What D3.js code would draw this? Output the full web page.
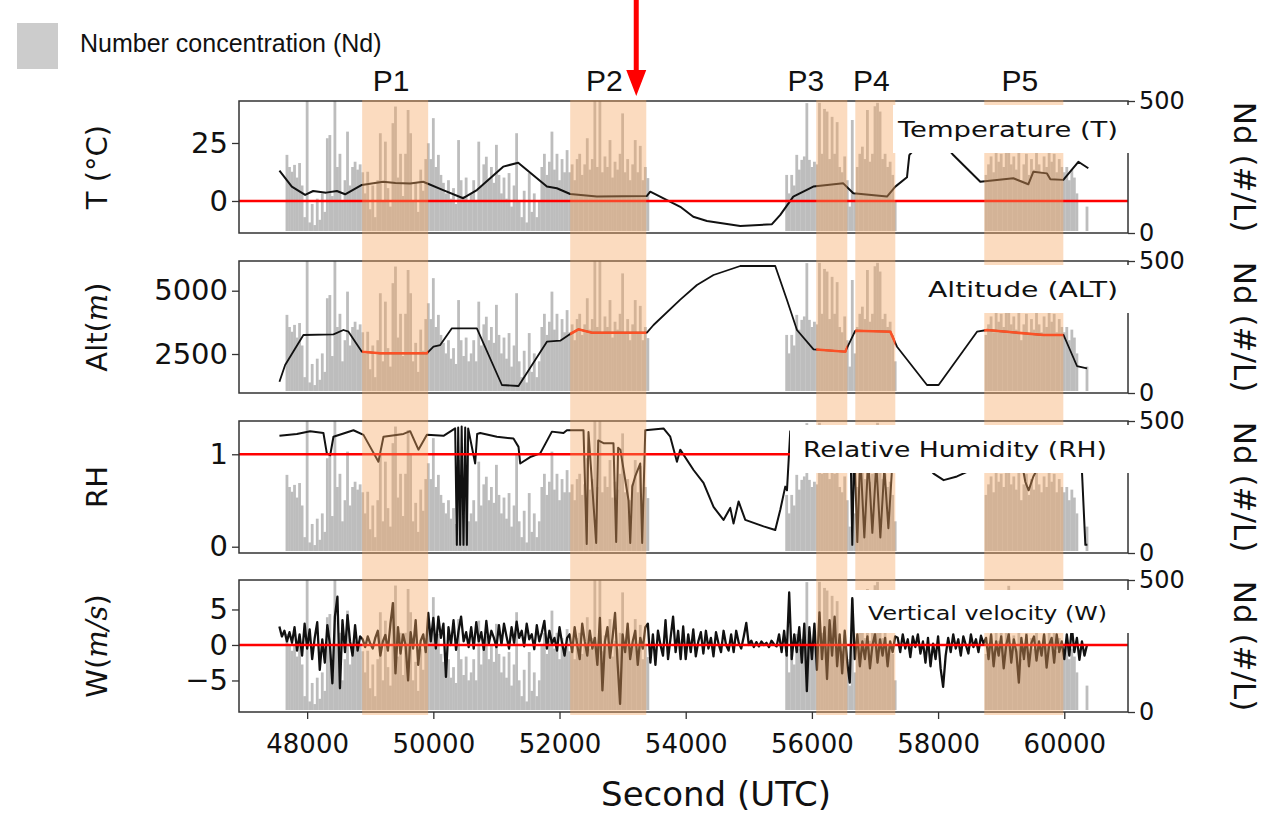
<!DOCTYPE html>
<html>
<head>
<meta charset="utf-8">
<script src="https://cdn.jsdelivr.net/npm/d3@7"></script>
<style>
  body { margin: 0; background: #fff; }
</style>
</head>
<body>
<div id="chart"></div>
<script>
// number concentration, one value every 40 s from 47560 s (#/L)
const ndStart = 47560, ndStep = 40;
const ndValues = [
  0, 0, 0, 296, 250, 232, 258, 210, 265, 180,
  60, 500, 40, 110, 30, 130, 50, 150, 80, 359,
  371, 140, 500, 250, 300, 120, 200, 384, 180, 250,
  270, 240, 260, 230, 150, 232, 90, 180, 60, 200,
  378, 120, 346, 170, 100, 416, 479, 210, 300, 140,
  300, 466, 378, 120, 190, 80, 240, 160, 280, 340,
  280, 435, 250, 296, 220, 190, 150, 200, 130, 170,
  110, 352, 200, 140, 210, 120, 150, 200, 120, 346,
  180, 260, 289, 200, 250, 190, 334, 220, 150, 210,
  130, 227, 100, 180, 378, 120, 60, 160, 40, 227,
  80, 150, 60, 120, 250, 300, 220, 270, 384, 240,
  300, 200, 280, 230, 314, 230, 260, 200, 280, 300,
  220, 260, 359, 240, 280, 500, 250, 500, 230, 290,
  250, 352, 210, 270, 240, 300, 453, 230, 280, 200,
  260, 352, 230, 330, 200, 250, 208, 0, 0, 0,
  0, 0, 0, 0, 0, 0, 0, 0, 0, 0,
  0, 0, 0, 0, 0, 0, 0, 0, 0, 0,
  0, 0, 0, 0, 0, 0, 0, 0, 0, 0,
  0, 0, 0, 0, 0, 0, 0, 0, 0, 0,
  0, 0, 0, 0, 0, 0, 0, 0, 0, 0,
  0, 220, 150, 220, 180, 296, 240, 277, 290, 492,
  277, 250, 270, 260, 493, 300, 470, 460, 280, 440,
  300, 420, 250, 230, 290, 200, 100, 428, 150, 250,
  300, 327, 280, 466, 270, 300, 480, 493, 460, 280,
  300, 250, 270, 220, 120, 0, 0, 0, 0, 0,
  0, 0, 0, 0, 0, 0, 0, 0, 0, 0,
  0, 0, 0, 0, 0, 0, 0, 0, 0, 0,
  0, 0, 0, 0, 0, 0, 0, 0, 0, 0,
  220, 260, 290, 230, 350, 270, 300, 250, 320, 478,
  260, 290, 240, 330, 200, 260, 300, 220, 280, 240,
  310, 260, 230, 290, 250, 340, 270, 300, 230, 280,
  250, 230, 250, 200, 240, 210, 150, 0, 0, 0,
  100
];

// vertical velocity, one value every 40 s from 47560 s (m/s)
const wStart = 47560, wStep = 40;
const wValues = [
  2.6, 1.2, 2.0, 0.5, 1.8, 0.3, 2.5, -0.8, 1.5, -1.5,
  3.0, -0.5, 2.2, -2.0, 1.0, 3.2, -3.5, 0.8, -2.5, 2.8,
  0.2, -5.4, 4.0, 6.8, -6.1, 3.5, -1.0, 4.2, 0.5, -1.5,
  2.8, -0.8, 1.2, 0.8, -0.3, 1.2, 0.2, -0.5, 1.0, 2.0,
  -1.5, 0.5, 1.4, -0.8, 3.0, 5.9, -4.0, 2.5, -1.2, 1.5,
  0.0, -5.0, 1.8, -0.5, 3.5, -2.8, 0.6, 1.5, -1.0, 4.5,
  0.5, 3.8, -0.5, 4.0, 1.0, 3.0, -4.5, 2.5, 0.0, 3.5,
  -0.7, 2.0, 4.0, 0.5, 1.8, -0.3, 2.5, -0.5, 3.2, 0.5,
  1.8, -0.7, 3.4, 0.2, 2.0, 1.0, -0.3, 2.8, 0.0, 3.0,
  1.2, -0.5, 2.5, 0.3, 3.3, 1.0, 2.0, -0.2, 3.0, 0.8,
  1.5, -0.6, 2.8, 0.5, 1.8, 3.4, -0.5, 2.0, 0.2, 1.0,
  -0.8, 2.5, 0.3, -1.5, 1.0, 1.5, -1.0, 2.5, 0.0, -2.0,
  3.0, 0.5, -1.5, 2.0, -0.5, 1.0, -2.8, 3.8, -6.4, 0.5,
  2.5, -1.8, 1.0, 4.5, -2.5, -8.3, 1.5, -1.0, 3.0, -2.0,
  0.5, 2.0, -2.8, 1.0, -0.5, 2.5, 3.0, -2.5, 1.5, -2.8,
  2.0, 0.0, -1.5, 3.5, -2.0, 1.0, 4.0, -1.0, 2.0, -2.0,
  2.6, -2.0, 1.5, -1.0, 2.2, -1.6, 0.5, 1.8, -1.2, 2.0,
  -0.5, 1.0, -1.6, 1.8, 0.2, -1.0, 2.0, 0.0, -0.8, 1.5,
  -1.0, 2.0, 0.3, -0.5, 1.2, 3.1, 0.0, 0.6, -0.3, 0.4,
  -0.2, 0.5, 0.0, 0.3, -0.3, 0.6, 0.1, -0.2, 1.5, -1.0,
  2.0, -1.5, 7.4, -2.0, 1.5, -1.0, 2.5, -2.5, 3.0, -6.5,
  2.5, -2.0, 3.0, -3.5, 4.6, -2.0, 2.5, -4.8, 3.5, -1.5,
  4.0, -3.0, 1.5, -4.0, 2.0, -2.5, -5.3, 6.6, -2.0, 1.5,
  -3.0, 0.5, -2.0, 1.2, -3.3, 0.0, 1.5, -2.5, 0.8, -1.5,
  1.0, -3.0, 0.5, -1.0, 1.2, 1.0, -1.0, 1.5, -0.5, 0.8,
  -1.7, 1.2, -0.3, 1.5, -1.2, 0.5, -2.5, 1.0, -3.0, 0.2,
  -2.0, 1.2, -3.3, -5.9, -1.5, 1.0, -1.0, 1.5, -0.5, 0.8,
  -1.5, 1.2, 0.0, -1.2, 1.5, -0.3, 0.8, -1.0, 1.3, 0.2,
  1.0, -2.0, 1.5, -3.0, 0.5, -1.5, 1.2, -3.3, 0.0, 1.5,
  -2.5, 0.8, -1.0, -5.3, 1.0, -2.0, 1.4, -3.0, 0.3, 1.2,
  -2.2, 0.5, -1.5, 1.5, -3.2, 0.0, 1.0, -2.5, 1.5, -1.0,
  0.5, -2.0, 1.5, -1.5, 2.5, -1.0, 1.0, -2.1, 0.5, -1.5,
  0.0
];

// [second, temperature degC]
const tempPoints = [
  [47561, 13.1], [47757, 6.2], [47968, 2.6], [48095, 4.3], [48300, 3.6], [48471, 4.3],
  [48602, 2.9], [48867, 6.9], [49205, 8.3], [49400, 7.8], [49633, 7.5], [49839, 8.3],
  [50156, 4.7], [50473, 1.2], [50690, 4.7], [51107, 14.8], [51345, 16.5], [51800, 6.2],
  [51958, 5.5], [52169, 3.0], [52592, 1.9], [53385, 2.2], [53438, 4.0], [53914, -2.5],
  [54120, -6.8], [54337, -8.6], [54865, -10.8], [55367, -10.0], [55499, -6.0], [55705, 1.9],
  [56022, 6.2], [56497, 7.6], [56656, 3.3], [57190, 1.9], [57322, 6.2], [57507, 10.2],
  [57544, 19.8], [57800, 28], [58000, 28], [58241, 19.8], [58669, 8.3], [59192, 9.8],
  [59430, 7.2], [59509, 12.6], [59726, 11.9], [59779, 9.4], [59985, 9.1], [60223, 16.9],
  [60381, 14.1]
];

// [second, altitude m]
const altPoints = [
  [47561, 1406], [47651, 2066], [47941, 3250], [48417, 3278], [48575, 3448], [48655, 3381],
  [48867, 2591], [49157, 2528], [49898, 2528], [50002, 2788], [50109, 2855], [50294, 3515],
  [50690, 3515], [51087, 1276], [51350, 1236], [51800, 2986], [52011, 3025], [52169, 3290],
  [52301, 3476], [52513, 3341], [53385, 3341], [53490, 3645], [53914, 4650], [54178, 5225],
  [54441, 5620], [54865, 5976], [55419, 5976], [55605, 4633], [55763, 3448], [56026, 2686],
  [56529, 2591], [56688, 3420], [57243, 3381], [57349, 2788], [57824, 1276], [58008, 1276],
  [58617, 3381], [58775, 3448], [59672, 3250], [59989, 3250], [60201, 2026], [60360, 1935]
];

// [second, relative humidity]
const rhPoints = [
  [47561, 1.20], [47837, 1.22], [48048, 1.25], [48258, 1.23], [48312, 1.01], [48365, 0.99],
  [48417, 1.19], [48734, 1.26], [48893, 1.21], [48999, 1.08], [49130, 0.92], [49210, 1.19],
  [49527, 1.22], [49633, 1.25], [49764, 1.05], [49898, 1.21], [50161, 1.20], [50346, 1.28],
  [50373, 0.02], [50394, 1.29], [50425, 0.02], [50449, 1.30], [50478, 0.02], [50505, 1.29],
  [50532, 0.02], [50552, 1.28], [50663, 0.90], [50695, 1.22], [50743, 1.23], [51007, 1.19],
  [51270, 1.17], [51350, 1.08], [51377, 0.90], [51535, 0.97], [51694, 1.01], [51879, 1.245],
  [52063, 1.23], [52117, 1.26], [52380, 1.26], [52431, 0.03], [52459, 1.24], [52581, 0.04],
  [52613, 1.15], [52697, 1.12], [52855, 1.12], [52898, 0.05], [52929, 1.07], [52964, 1.05],
  [53094, 0.50], [53121, 0.04], [53153, 0.65], [53199, 0.76], [53279, 0.90], [53310, 0.04],
  [53359, 1.26], [53648, 1.28], [53755, 1.19], [53861, 0.92], [53913, 1.05], [54124, 0.83],
  [54282, 0.69], [54441, 0.43], [54599, 0.29], [54706, 0.42], [54758, 0.25], [54838, 0.49],
  [54944, 0.29], [55234, 0.22], [55419, 0.18], [55499, 0.40], [55578, 0.65], [55605, 0.61],
  [55657, 1.25], [56000, 1.25], [56609, 1.20], [56640, 0.02], [56672, 1.10], [56720, 0.05],
  [56767, 1.00], [56831, 0.10], [56894, 0.95], [56958, 0.15], [57021, 0.90], [57085, 0.10],
  [57148, 0.85], [57212, 0.20], [57275, 0.90], [57322, 1.00], [57719, 0.95], [57929, 0.79],
  [58088, 0.72], [58299, 0.76], [58458, 0.81], [58590, 1.00], [59303, 1.00], [59383, 0.70],
  [59435, 0.61], [59510, 0.76], [59621, 0.90], [60255, 0.95], [60282, 0.79], [60334, 0.02],
  [60366, 0.02]
];

const periodNames = ["P1", "P2", "P3", "P4", "P5"];
const periodStart = [48872, 52169, 56069, 56688, 58732];
const periodEnd = [49918, 53375, 56561, 57322, 59985];

const xTicks = [48000, 50000, 52000, 54000, 56000, 58000, 60000];
const tempTicks = [0, 25];
const altTicks = [2500, 5000];
const rhTicks = [0, 1];
const wTicks = [-5, 0, 5];
const ndTicks = [0, 500];
const arrowTime = 53216;

const width = 1286, height = 813;
const left = 239, right = 1128, panelH = 132;

const ndSeries = ndValues.map((v, i) => [ndStart + i * ndStep, v]);
const wPoints = wValues.map((v, i) => [wStart + i * wStep, v]);

const x = d3.scaleLinear().domain([46920, 61010]).range([left, right]);

const panels = [
  { top: 101, domain: [-13.8, 43.1], ticks: tempTicks, data: tempPoints, ref: 0, lw: 2,
    label: ["T (°C)"], box: [893, 105, 1132, 153], boxText: "Temperature (T)", textX: [898, 1118] },
  { top: 261, domain: [960, 6173], ticks: altTicks, data: altPoints, ref: null, lw: 1.8, highlight: true,
    label: ["Alt(", "m", ")"], box: [915, 265, 1132, 313], boxText: "Altitude (ALT)", textX: [928, 1118] },
  { top: 421, domain: [-0.068, 1.36], ticks: rhTicks, data: rhPoints, ref: 1, lw: 2,
    label: ["RH"], box: [790, 425, 1132, 473], boxText: "Relative Humidity (RH)", textX: [803, 1107] },
  { top: 580, domain: [-9.44, 9.15], ticks: wTicks, data: wPoints, ref: 0, lw: 2.3,
    label: ["W(", "m/s", ")"], box: [855, 590, 1132, 633], boxText: "Vertical velocity (W)", textX: [868, 1107] }
];

const svg = d3.select("#chart").append("svg")
  .attr("width", width)
  .attr("height", height)
  .style("font-family", "'DejaVu Sans', sans-serif");

const defs = svg.append("defs");
const plotLayer = svg.append("g");
const shadeLayer = svg.append("g");
const boxLayer = svg.append("g");
const axisLayer = svg.append("g");

// shared clip for the highlighted periods
const periodClip = defs.append("clipPath").attr("id", "periods");
periodNames.forEach((n, k) => {
  periodClip.append("rect")
    .attr("x", x(periodStart[k]))
    .attr("y", 0)
    .attr("width", x(periodEnd[k]) - x(periodStart[k]))
    .attr("height", height);
});

function styleAxis(g, size) {
  g.select(".domain").remove();
  g.selectAll("line").attr("stroke", "#333").attr("stroke-width", 1.3);
  g.selectAll("text")
    .attr("font-size", size)
    .attr("font-family", "'DejaVu Sans', sans-serif")
    .attr("fill", "#111");
}

panels.forEach((p, k) => {
  const bottom = p.top + panelH;
  const y = d3.scaleLinear().domain(p.domain).range([bottom, p.top]);
  const yNd = d3.scaleLinear().domain([0, 500]).range([bottom, p.top]);

  defs.append("clipPath").attr("id", "clip" + k)
    .append("rect")
    .attr("x", left).attr("y", p.top)
    .attr("width", right - left).attr("height", panelH);

  const g = plotLayer.append("g").attr("clip-path", `url(#clip${k})`);

  g.selectAll("line.nd")
    .data(ndSeries.filter((d) => d[1] > 0))
    .join("line")
    .attr("class", "nd")
    .attr("x1", (d) => x(d[0]))
    .attr("x2", (d) => x(d[0]))
    .attr("y1", yNd(0) - 2)
    .attr("y2", (d) => yNd(d[1]))
    .attr("stroke", "#bdbdbd")
    .attr("stroke-width", 2.8);

  const line = d3.line().x((d) => x(d[0])).y((d) => y(d[1]));

  g.append("path")
    .datum(p.data)
    .attr("d", line)
    .attr("fill", "none")
    .attr("stroke", "#111")
    .attr("stroke-width", p.lw)
    .attr("stroke-linejoin", "round");

  if (p.highlight) {
    g.append("g").attr("clip-path", "url(#periods)")
      .append("path")
      .datum(p.data)
      .attr("d", line)
      .attr("fill", "none")
      .attr("stroke", "#ff1a00")
      .attr("stroke-width", 2.6);
  }

  if (p.ref !== null) {
    g.append("line")
      .attr("x1", left).attr("x2", right)
      .attr("y1", y(p.ref)).attr("y2", y(p.ref))
      .attr("stroke", "#ff0000")
      .attr("stroke-width", 2.4);
  }

  plotLayer.append("rect")
    .attr("x", left).attr("y", p.top)
    .attr("width", right - left).attr("height", panelH)
    .attr("fill", "none")
    .attr("stroke", "#333")
    .attr("stroke-width", 1.5);

  // left axis
  const ax = axisLayer.append("g")
    .attr("transform", `translate(${left},0)`)
    .call(d3.axisLeft(y).tickValues(p.ticks).tickSize(7).tickPadding(4).tickFormat(d3.format("d")));
  styleAxis(ax, 29);

  // right axis (Nd)
  const ar = axisLayer.append("g")
    .attr("transform", `translate(${right},0)`)
    .call(d3.axisRight(yNd).tickValues(ndTicks).tickSize(7).tickPadding(4).tickFormat(d3.format("d")));
  styleAxis(ar, 24);

  // left label
  const lab = axisLayer.append("text")
    .attr("transform", `translate(97,${p.top + panelH / 2}) rotate(-90)`)
    .attr("text-anchor", "middle")
    .attr("dominant-baseline", "central")
    .attr("font-size", 29)
    .attr("fill", "#111");
  p.label.forEach((s, j) => {
    const ts = lab.append("tspan").text(s);
    if (j === 1) ts.attr("font-style", "italic").attr("font-family", "'DejaVu Serif', serif");
  });

  // right label
  axisLayer.append("text")
    .attr("transform", `translate(1245,${p.top + panelH / 2}) rotate(90)`)
    .attr("text-anchor", "middle")
    .attr("dominant-baseline", "central")
    .attr("font-size", 31)
    .attr("fill", "#111")
    .text("Nd (#/L)");

  // label box
  boxLayer.append("rect")
    .attr("x", p.box[0]).attr("y", p.box[1])
    .attr("width", p.box[2] - p.box[0]).attr("height", p.box[3] - p.box[1])
    .attr("fill", "#fff");
  boxLayer.append("text")
    .attr("x", p.textX[0])
    .attr("y", (p.box[1] + p.box[3]) / 2 + 1)
    .attr("dominant-baseline", "central")
    .attr("font-size", k === 3 ? 19 : 21)
    .attr("textLength", p.textX[1] - p.textX[0])
    .attr("lengthAdjust", "spacingAndGlyphs")
    .attr("fill", "#111")
    .text(p.boxText);

  if (k === panels.length - 1) {
    const axb = axisLayer.append("g")
      .attr("transform", `translate(0,${bottom})`)
      .call(d3.axisBottom(x).tickValues(xTicks).tickSize(7).tickPadding(16).tickFormat(d3.format("d")));
    styleAxis(axb, 26);
  }
});

// highlighted periods
shadeLayer.selectAll("rect")
  .data(periodNames)
  .join("rect")
  .attr("x", (d, i) => x(periodStart[i]))
  .attr("width", (d, i) => x(periodEnd[i]) - x(periodStart[i]))
  .attr("y", 100)
  .attr("height", 615)
  .attr("fill", "#f4a460")
  .attr("fill-opacity", 0.4);

// period names
const labelShift = { P3: -22 };
axisLayer.selectAll("text.period")
  .data(periodNames)
  .join("text")
  .attr("class", "period")
  .attr("x", (d, i) => (x(periodStart[i]) + x(periodEnd[i])) / 2 + (labelShift[d] || 0) - 4)
  .attr("y", 91)
  .attr("text-anchor", "middle")
  .attr("font-family", "'Liberation Sans', Arial, sans-serif")
  .attr("font-size", 30)
  .attr("fill", "#111")
  .text((d) => d);

// x label
axisLayer.append("text")
  .attr("x", 716).attr("y", 806)
  .attr("text-anchor", "middle")
  .attr("font-size", 34)
  .attr("fill", "#111")
  .text("Second (UTC)");

// legend
axisLayer.append("rect")
  .attr("x", 17).attr("y", 23).attr("width", 41).attr("height", 46)
  .attr("fill", "#cccccc");
axisLayer.append("text")
  .attr("x", 80).attr("y", 52)
  .attr("font-family", "'Liberation Sans', Arial, sans-serif")
  .attr("font-size", 25)
  .attr("fill", "#111")
  .text("Number concentration (Nd)");

// red arrow
const ax0 = x(arrowTime);
axisLayer.append("path")
  .attr("d", `M${ax0 - 2.5},0 L${ax0 + 2.5},0 L${ax0 + 2.5},70 L${ax0 + 10},70 L${ax0},96 L${ax0 - 10},70 L${ax0 - 2.5},70 Z`)
  .attr("fill", "#ff0000");
</script>
</body>
</html>
